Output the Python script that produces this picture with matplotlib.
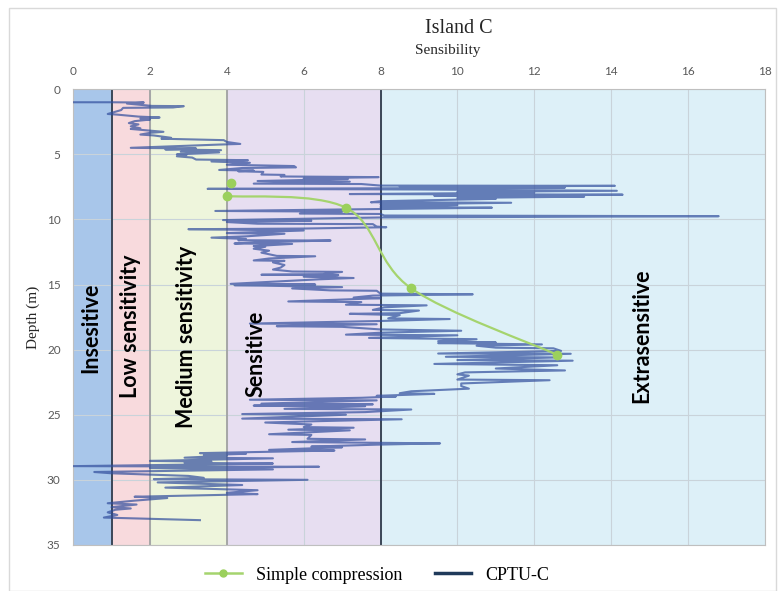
import matplotlib.pyplot as plt
from matplotlib.lines import Line2D
from matplotlib.path import Path
from matplotlib.patches import PathPatch, Rectangle

# CPTU-C profile (depth in m, sensibility)
cptu_depth = [1.00, 1.00, 1.02, 1.10, 1.28, 1.30, 1.40, 1.43, 1.60, 1.90, 1.95, 2.10, 2.17, 2.25, 2.33,
              2.45, 2.60, 2.70, 2.85, 3.00, 3.05, 3.15, 3.27, 3.35, 3.48, 3.55, 3.73, 3.80, 3.91, 4.05,
              4.20, 4.25, 4.50, 4.55, 4.62, 4.68, 4.80, 4.85, 5.00, 5.05, 5.15, 5.25, 5.40, 5.45, 5.55,
              5.65, 5.80, 5.90, 6.00, 6.05, 6.20, 6.25, 6.30, 6.35, 6.55, 6.58, 6.70, 6.75, 6.85, 6.90,
              7.05, 7.10, 7.25, 7.28, 7.40, 7.42, 7.48, 7.55, 7.60, 7.65, 7.70, 7.80, 7.88, 7.95, 8.05,
              8.10, 8.18, 8.25, 8.35, 8.42, 8.60, 8.68, 8.72, 8.85, 8.90, 9.05, 9.10, 9.20, 9.35, 9.40,
              9.55, 9.58, 9.70, 9.75, 9.85, 10.05, 10.10, 10.20, 10.33, 10.36, 10.55, 10.60, 10.70, 10.75, 10.85,
              11.05, 11.10, 11.30, 11.40, 11.50, 11.60, 11.62, 11.75, 11.85, 11.88, 12.05, 12.10, 12.25, 12.40, 12.55,
              12.80, 12.83, 13.00, 13.15, 13.18, 13.30, 13.50, 13.70, 13.85, 14.00, 14.03, 14.20, 14.25, 14.28, 14.40,
              14.50, 14.60, 14.95, 15.00, 15.05, 15.10, 15.20, 15.30, 15.45, 15.48, 15.70, 15.75, 15.85, 16.00, 16.05,
              16.30, 16.35, 16.55, 16.60, 16.75, 16.95, 17.00, 17.20, 17.25, 17.35, 17.60, 17.65, 17.80, 18.00, 18.05,
              18.20, 18.25, 18.45, 18.55, 18.70, 18.85, 18.90, 19.10, 19.20, 19.35, 19.45, 19.50, 19.60, 19.70, 19.85,
              19.90, 20.10, 20.30, 20.32, 20.55, 20.60, 20.80, 20.85, 21.10, 21.20, 21.45, 21.60, 21.75, 21.90, 22.00,
              22.30, 22.35, 22.60, 22.80, 23.00, 23.20, 23.35, 23.40, 23.55, 23.60, 23.70, 23.85, 23.90, 24.15, 24.20,
              24.30, 24.35, 24.55, 24.60, 24.80, 24.95, 25.00, 25.30, 25.35, 25.50, 25.60, 25.75, 25.95, 26.00, 26.15,
              26.20, 26.50, 26.55, 26.85, 26.90, 27.10, 27.20, 27.30, 27.45, 27.50, 27.70, 27.75, 27.95, 28.00, 28.10,
              28.15, 28.30, 28.35, 28.55, 28.60, 28.70, 28.75, 28.95, 29.00, 29.10, 29.20, 29.40, 29.50, 29.60, 29.70,
              29.85, 29.95, 30.00, 30.20, 30.40, 30.60, 30.80, 31.00, 31.10, 31.30, 31.40, 31.60, 31.80, 31.90, 32.10,
              32.20, 32.30, 32.50, 32.70, 32.90, 33.10]
cptu_sens = [0.00, 1.00, 1.84, 1.40, 2.05, 2.88, 2.60, 1.30, 1.25, 0.90, 1.15, 1.70, 2.25, 1.75, 2.00,
             1.60, 1.45, 1.70, 1.50, 1.75, 1.50, 1.90, 2.35, 2.00, 1.75, 2.10, 2.55, 2.30, 3.92, 4.00,
             4.35, 3.80, 1.50, 3.20, 2.40, 3.85, 2.80, 3.80, 2.70, 2.95, 2.70, 3.10, 3.20, 4.55, 3.60,
             4.60, 4.00, 5.75, 5.80, 4.40, 3.80, 4.70, 4.30, 4.95, 4.90, 5.50, 5.40, 7.95, 6.00, 7.15,
             4.80, 7.20, 4.70, 7.50, 8.00, 14.10, 8.50, 12.80, 9.00, 3.50, 9.00, 14.15, 10.00, 12.00, 7.20,
             14.30, 9.40, 13.30, 10.00, 11.00, 8.00, 7.75, 11.40, 8.00, 10.00, 8.00, 10.90, 8.00, 3.70, 7.00,
             5.90, 8.00, 8.10, 16.80, 8.00, 3.90, 6.20, 4.00, 4.80, 7.80, 7.90, 8.15, 6.00, 3.00, 6.00,
             4.00, 5.50, 4.50, 3.60, 4.50, 4.30, 6.70, 4.80, 4.20, 5.70, 4.70, 5.00, 4.70, 5.10, 4.90,
             5.30, 6.30, 5.10, 4.70, 5.50, 5.20, 5.50, 5.40, 5.20, 5.70, 7.00, 6.50, 4.90, 6.90, 6.00,
             7.30, 6.40, 4.10, 6.30, 4.20, 5.20, 7.00, 5.70, 6.70, 7.90, 8.00, 10.40, 7.80, 7.30, 8.00,
             5.60, 7.50, 7.10, 9.20, 8.10, 7.80, 9.00, 8.50, 7.20, 8.50, 8.20, 9.80, 8.00, 4.60, 7.90,
             5.30, 7.00, 8.00, 10.10, 8.00, 7.10, 10.00, 7.70, 10.50, 9.50, 11.00, 9.50, 12.20, 10.50, 11.00,
             12.50, 12.70, 9.50, 12.95, 9.70, 12.60, 10.00, 13.00, 9.40, 12.60, 11.00, 12.80, 10.20, 10.00, 10.30,
             10.00, 12.40, 10.10, 10.10, 10.30, 8.80, 8.50, 9.40, 7.90, 8.40, 7.50, 4.60, 7.90, 4.90, 7.80,
             4.70, 7.60, 5.50, 8.80, 7.60, 4.40, 7.10, 4.40, 8.55, 6.30, 5.00, 6.20, 6.00, 7.30, 5.60,
             7.20, 5.10, 6.20, 6.10, 7.60, 5.70, 9.55, 7.90, 6.20, 7.00, 5.10, 6.80, 3.30, 4.50, 3.40,
             4.00, 2.90, 5.20, 2.00, 3.60, 2.90, 5.20, 0.00, 6.40, 2.00, 5.20, 0.55, 1.00, 2.00, 3.00,
             3.40, 2.10, 6.10, 2.20, 4.40, 2.40, 4.80, 4.00, 4.80, 1.60, 2.45, 1.60, 0.90, 1.65, 1.00,
             1.50, 1.10, 0.90, 1.15, 0.80, 3.30]

# Simple compression tests
sc_depth = [7.2, 8.2, 9.1, 15.3, 20.4]
sc_sens = [4.1, 4.0, 7.1, 8.8, 12.6]

# sensitivity classes
band_edges = [0, 1, 2, 4, 8, 18]
band_colors = ['#a8c6ea', '#f8dadd', '#eef5dc', '#e7def1', '#ddf0f8']
band_labels = ['Insesitive', 'Low sensitivity', 'Medium sensitivity', 'Sensitive', 'Extrasensitive']
label_pos = [(0.45, 18.3), (1.5, 18.2), (2.95, 19.0), (4.75, 20.3), (14.8, 18.9)]


def smooth_path(xs, ys, k=0.5):
    # Catmull-Rom style bezier through the points (like Excel's smoothed line)
    n = len(xs)
    verts = [(xs[0], ys[0])]
    codes = [Path.MOVETO]
    for i in range(n - 1):
        x0, y0 = xs[max(i - 1, 0)], ys[max(i - 1, 0)]
        x3, y3 = xs[min(i + 2, n - 1)], ys[min(i + 2, n - 1)]
        t1 = ((xs[i + 1] - x0) * k / 3, (ys[i + 1] - y0) * k / 3)
        t2 = ((x3 - xs[i]) * k / 3, (y3 - ys[i]) * k / 3)
        verts += [(xs[i] + t1[0], ys[i] + t1[1]),
                  (xs[i + 1] - t2[0], ys[i + 1] - t2[1]),
                  (xs[i + 1], ys[i + 1])]
        codes += [Path.CURVE4] * 3
    return Path(verts, codes)


fig = plt.figure(figsize=(7.78, 5.91), dpi=100)
ax = fig.add_axes([0.094, 0.078, 0.889, 0.771])

fig.patches.append(Rectangle((0.012, 0.0), 0.985, 0.987, transform=fig.transFigure,
                             fill=False, edgecolor='#d9d9d9', linewidth=1))

for i in range(len(band_colors)):
    ax.axvspan(band_edges[i], band_edges[i + 1], color=band_colors[i], zorder=0, lw=0)

ax.grid(True, color='#c9d3da', linewidth=0.8, zorder=1)
ax.set_axisbelow(True)
for x, c in [(1, '#3b4657'), (2, '#a6a6a6'), (4, '#a6a6a6'), (8, '#3b4657')]:
    ax.axvline(x, color=c, linewidth=1.4, zorder=2)

for (x, y), lab in zip(label_pos, band_labels):
    ax.text(x, y, lab, rotation=90, ha='center', va='center', fontsize=15.5,
            fontweight='bold', family='Lato', color='black', zorder=5)

ax.plot(cptu_sens, cptu_depth, color='#2f4c9c', alpha=0.7, linewidth=1.5, zorder=3)

# curve starts at the second test, first one is only a dot
ax.add_patch(PathPatch(smooth_path(sc_sens[1:], sc_depth[1:]), fill=False, edgecolor='#a5d46e',
                       linewidth=1.6, zorder=4))
ax.plot(sc_sens, sc_depth, linestyle='none', marker='o', markersize=6,
        color='#9bd05c', zorder=4)

ax.set_xlim(0, 18)
ax.set_ylim(35, 0)
ax.set_xticks(range(0, 19, 2))
ax.set_yticks(range(0, 36, 5))
ax.xaxis.tick_top()
ax.tick_params(axis='both', length=0, labelsize=8.5, colors='#595959', pad=9)
for lab in ax.get_xticklabels() + ax.get_yticklabels():
    lab.set_family('Lato')
for s in ax.spines.values():
    s.set_color('#bfbfbf')

fig.text(0.59, 0.952, 'Island C', ha='center', va='center', fontsize=14.5,
         family='Liberation Serif', color='#262626')
fig.text(0.575, 0.915, 'Sensibility', ha='center', va='center', fontsize=11,
         family='Liberation Serif', color='#262626')
ax.set_ylabel('Depth (m)', family='Liberation Serif', fontsize=11, color='#262626', labelpad=5)

handles = [Line2D([], [], color='#a5d46e', marker='o', markerfacecolor='#9bd05c',
                  markeredgecolor='#9bd05c', markersize=5, linewidth=1.8),
           Line2D([], [], color='#1f3a5a', linewidth=2.5)]
fig.legend(handles, ['Simple compression', 'CPTU-C'], loc='center', ncol=2,
           bbox_to_anchor=(0.485, 0.027), frameon=False, columnspacing=1.8, handlelength=2,
           prop={'family': 'Liberation Serif', 'size': 13})

fig.savefig('out.png', dpi=100)
